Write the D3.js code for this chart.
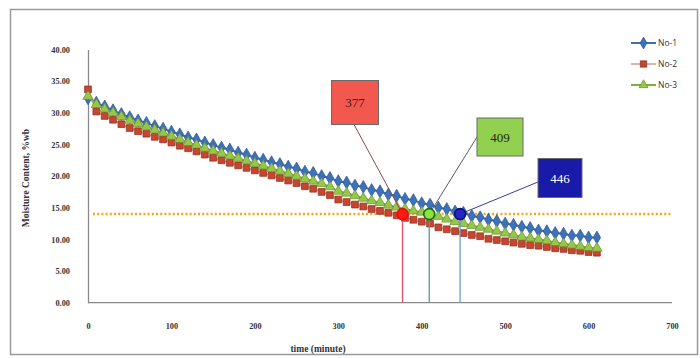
<!DOCTYPE html>
<html>
<head>
<meta charset="utf-8">
<script src="https://cdn.jsdelivr.net/npm/d3@7"></script>
<style>
  html, body { margin: 0; padding: 0; background: #fff; }
  svg { display: block; }
</style>
</head>
<body>
<svg id="chart" width="700" height="358"></svg>
<script>
// Drying time in minutes (readings every 10 minutes)
const times = [0,10,20,30,40,50,60,70,80,90,100,110,120,130,140,150,160,170,180,190,
  200,210,220,230,240,250,260,270,280,290,300,310,320,330,340,350,360,370,380,390,
  400,410,420,430,440,450,460,470,480,490,500,510,520,530,540,550,560,570,580,590,600,610];

// Moisture content (% wet basis) for each run
const no1 = [32.3,31.6,31.0,30.4,29.8,29.3,28.8,28.4,27.9,27.5,27.0,26.6,26.1,25.8,25.3,24.9,24.5,24.2,23.7,23.4,
  22.9,22.6,22.2,21.9,21.5,21.2,20.7,20.5,20.0,19.7,19.2,19.0,18.5,18.3,17.8,17.6,17.1,16.9,16.4,16.2,
  15.7,15.5,15.0,14.8,14.4,14.2,13.7,13.5,13.1,12.9,12.5,12.3,12.0,11.8,11.4,11.3,11.0,10.9,10.6,10.6,10.3,10.3];
const no2 = [33.7,30.2,29.5,28.9,28.2,27.6,27.1,26.7,26.2,25.8,25.3,24.8,24.4,23.9,23.4,22.9,22.5,22.1,21.7,21.3,
  20.9,20.5,20.1,19.7,19.3,18.9,18.4,18.0,17.5,17.0,16.3,15.9,15.5,15.2,14.8,14.5,14.2,13.8,13.4,13.1,
  12.8,12.5,11.9,11.6,11.3,11.0,10.7,10.5,10.1,9.9,9.7,9.5,9.3,9.1,9.0,8.8,8.6,8.5,8.3,8.2,8.0,7.9];
const no3 = [32.6,31.3,30.6,30.0,29.4,28.8,28.3,27.8,27.3,26.8,26.3,25.8,25.3,24.9,24.4,24.0,23.6,23.2,22.8,22.4,
  22.0,21.6,21.2,20.8,20.4,20.0,19.6,19.2,18.8,18.3,17.6,17.3,16.9,16.5,16.1,15.8,15.4,15.1,14.8,14.5,
  14.3,14.0,13.6,13.2,12.8,12.5,12.2,11.9,11.6,11.3,11.0,10.7,10.4,10.2,10.0,9.8,9.5,9.3,9.1,8.9,8.7,8.6];

const seriesNames = ["No-1", "No-2", "No-3"];

// Target moisture level and the times each run reaches it
const targetMoisture = 14;
const targetTimes = [377, 409, 446];   // No-2, No-3, No-1

// Axis ticks
const xTicks = [0,100,200,300,400,500,600,700];
const yTicks = [0,5,10,15,20,25,30,35,40];

const svg = d3.select("#chart");

// outer frame
svg.append("rect").attr("x", 10.5).attr("y", 9.5).attr("width", 687).attr("height", 345)
  .attr("fill", "#fff").attr("stroke", "#9a9a9a").attr("stroke-width", 1.5);

const x = d3.scaleLinear().domain([0, 700]).range([88, 672]);
const y = d3.scaleLinear().domain([0, 40]).range([302.7, 49.5]);

const serif = "'Liberation Serif', 'DejaVu Serif', serif";

// axes
const xAxis = d3.axisBottom(x).tickValues(xTicks).tickSize(0).tickPadding(20)
  .tickFormat(d3.format("d"));
const yAxis = d3.axisLeft(y).tickValues(yTicks).tickSize(0).tickPadding(18)
  .tickFormat(d3.format(".2f"));

const gx = svg.append("g").attr("transform", `translate(0,${y(0)})`).call(xAxis);
const gy = svg.append("g").attr("transform", `translate(${x(0)},0)`).call(yAxis);
[gx, gy].forEach(g => {
  g.select(".domain").attr("stroke", "#8a8a8a").attr("stroke-width", 1.3);
  g.selectAll("text").attr("font-family", serif).attr("font-weight", "bold")
    .attr("font-size", 8.3).attr("fill", "#333");
});
gx.select(".domain").attr("d", `M${x(0)},0H${x(700)}`);

// axis titles
svg.append("text").attr("x", 318).attr("y", 352).attr("text-anchor", "middle")
  .attr("font-family", serif).attr("font-weight", "bold").attr("font-size", 9.5)
  .attr("fill", "#333").text("time (minute)");
svg.append("text").attr("transform", "translate(29,178) rotate(-90)")
  .attr("text-anchor", "middle").attr("font-family", serif).attr("font-weight", "bold")
  .attr("font-size", 9.5).attr("fill", "#333").text("Moisture Content, %wb");

// target moisture line
svg.append("line").attr("x1", x(6)).attr("x2", x(700)).attr("y1", y(targetMoisture)).attr("y2", y(targetMoisture))
  .attr("stroke", "#f0a818").attr("stroke-width", 2.5).attr("stroke-dasharray", "2,2.2");

const series = [
  { name: seriesNames[0], values: no1, line: "#3c6fb4", fill: "#3d72bb", stroke: "#2a5590", shape: d3.symbolDiamond, size: 48, lsize: 40 },
  { name: seriesNames[1], values: no2, line: "#d8b4b0", fill: "#c8452f", stroke: "#8e2a1c", shape: d3.symbolSquare, size: 46, lsize: 40 },
  { name: seriesNames[2], values: no3, line: "#7fae3a", fill: "#95c84a", stroke: "#6d8f2d", shape: d3.symbolTriangle, size: 46, lsize: 36 }
];

const lineGen = d3.line().x((d, i) => x(times[i])).y(d => y(d));

series.forEach(s => {
  const g = svg.append("g");
  g.append("path").attr("d", lineGen(s.values)).attr("fill", "none")
    .attr("stroke", s.line).attr("stroke-width", 2);
  g.selectAll("path.m").data(s.values).join("path").attr("class", "m")
    .attr("d", d3.symbol().type(s.shape).size(s.size))
    .attr("transform", (d, i) => `translate(${x(times[i])},${y(d)})`)
    .attr("fill", s.fill).attr("stroke", s.stroke).attr("stroke-width", 0.7);
});

// legend
seriesNames.forEach((name, i) => {
  const s = series[i];
  const ly = 43 + i * 21;
  svg.append("line").attr("x1", 631).attr("x2", 656).attr("y1", ly).attr("y2", ly)
    .attr("stroke", s.line).attr("stroke-width", 2);
  svg.append("path").attr("d", d3.symbol().type(s.shape).size(s.lsize))
    .attr("transform", `translate(643.5,${ly})`).attr("fill", s.fill)
    .attr("stroke", s.stroke).attr("stroke-width", 0.7);
  svg.append("text").attr("x", 658).attr("y", ly + 3.2).attr("font-family", "'Open Sans', sans-serif")
    .attr("font-size", 8.5).attr("fill", "#333").text(name);
});

// time-to-target annotations
const annots = [
  { t: targetTimes[0], boxX: 331.5, boxY: 80.5, w: 47, h: 44, boxFill: "#f2584e", text: "#4a1a14",
    from: [354, 124.5], lead: "#8a4a50", drop: "#e0506a", dot: "#ff1a10", dotStroke: "#e01010" },
  { t: targetTimes[1], boxX: 477, boxY: 118, w: 46, h: 38, boxFill: "#92d050", text: "#1e2a10",
    from: [477, 137], lead: "#5a5a6a", drop: "#5a9a90", dot: "#90e040", dotStroke: "#107010" },
  { t: targetTimes[2], boxX: 538, boxY: 158.5, w: 44, h: 39, boxFill: "#1a1aa8", text: "#ffffff",
    from: [538, 182], lead: "#3a3a9a", drop: "#6f9cc8", dot: "#2424c8", dotStroke: "#101070" }
];

annots.forEach(a => {
  const cx = x(a.t), cy = y(targetMoisture);
  svg.append("line").attr("x1", cx).attr("x2", cx).attr("y1", cy).attr("y2", y(0))
    .attr("stroke", a.drop).attr("stroke-width", 1.3);
  svg.append("line").attr("x1", a.from[0]).attr("y1", a.from[1]).attr("x2", cx).attr("y2", cy)
    .attr("stroke", a.lead).attr("stroke-width", 1);
  svg.append("circle").attr("cx", cx).attr("cy", cy).attr("r", 5.5)
    .attr("fill", a.dot).attr("stroke", a.dotStroke).attr("stroke-width", 1.6);
  svg.append("rect").attr("x", a.boxX).attr("y", a.boxY).attr("width", a.w).attr("height", a.h)
    .attr("fill", a.boxFill).attr("stroke", "#6a6a6a").attr("stroke-width", 1);
  svg.append("text").attr("x", a.boxX + a.w / 2).attr("y", a.boxY + a.h / 2 + 4.5)
    .attr("text-anchor", "middle").attr("font-family", serif).attr("font-size", 13)
    .attr("fill", a.text).text(a.t);
});
</script>
</body>
</html>
